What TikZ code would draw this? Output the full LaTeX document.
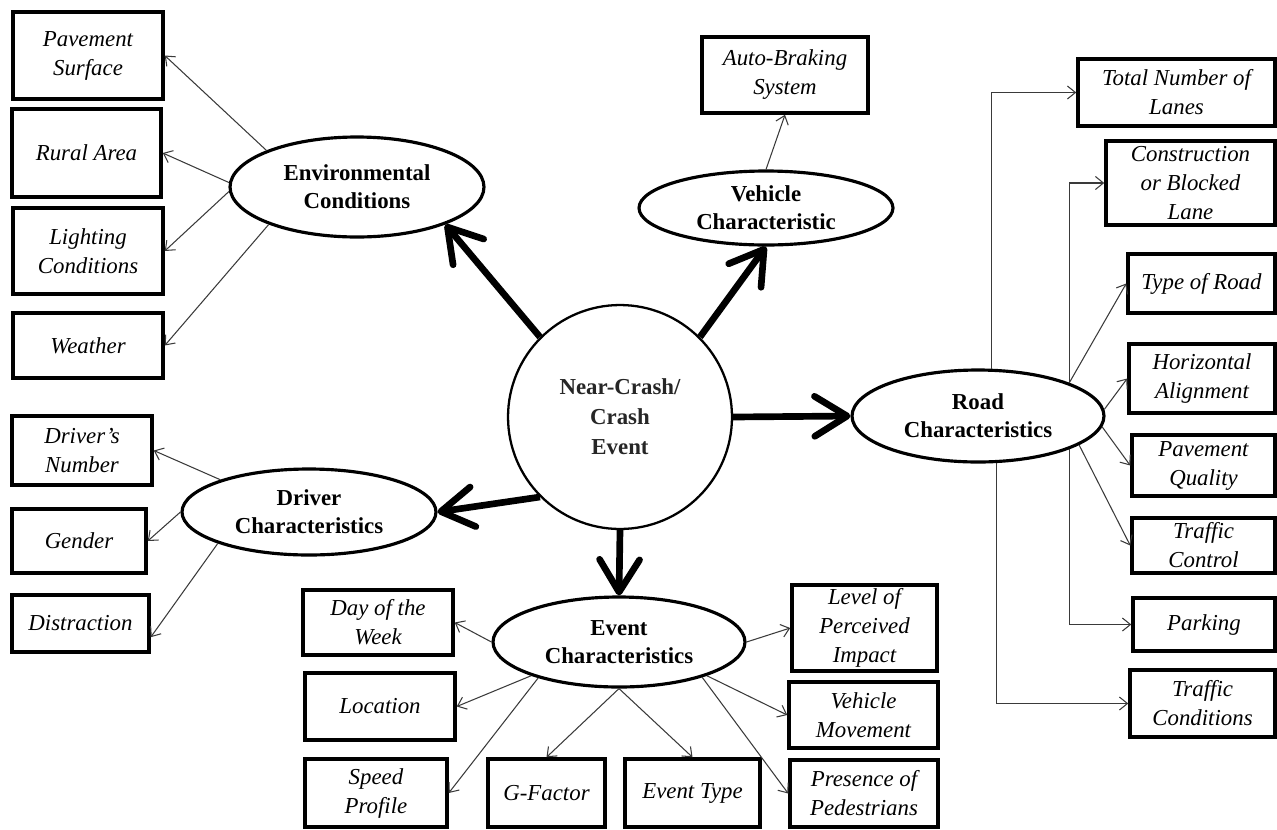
\documentclass[tikz,border=0pt]{standalone}
\usepackage{fontspec}
\setmainfont{Liberation Serif}
\usetikzlibrary{shapes.geometric,arrows.meta}
\definecolor{linegray}{HTML}{3A3A3A}
\newcommand\boxfont{\itshape\fontsize{13}{16.5}\selectfont}
\newcommand\ellfont{\bfseries\fontsize{13}{16}\selectfont}
\newcommand\bx[6]{%
  \pgfmathsetmacro\bxw{(#4-#2)*0.02}%
  \pgfmathsetmacro\bxh{(#5-#3)*0.02}%
  \node[box, minimum width=\bxw cm, minimum height=\bxh cm] (#1) at ({(#2+#4)/2},{(#3+#5)/2}) {#6};}
\begin{document}
\begin{tikzpicture}[x=0.02cm,y=-0.02cm,
  box/.style={draw, line width=2pt, inner sep=0pt, align=center, font=\boxfont},
  ell/.style={draw, ellipse, line width=1.8pt, inner sep=0pt, align=center, font=\ellfont},
  conn/.style={draw=linegray, line width=0.6pt, -{Straight Barb[length=1.6mm,width=2.6mm]}},
  bigarrow/.style={line width=3.8pt, -{Straight Barb[length=6.5mm,width=8mm,line cap=round,line join=round]}}
]
\useasboundingbox (0,0) rectangle (1277,829);

% central circle
\node[draw, circle, line width=1.3pt, minimum size=4.48cm, inner sep=0pt, align=center,
      font=\bfseries\fontsize{13}{17}\selectfont, text=black!85] (cc) at (620,417) {Near-Crash/\\Crash\\Event};

% category ellipses
\node[ell, minimum width=5.08cm, minimum height=2cm]    (env)  at (357,187) {Environmental\\Conditions};
\node[ell, minimum width=5.08cm, minimum height=1.48cm] (vc)   at (766,208) {Vehicle\\Characteristic};
\node[ell, minimum width=5.04cm, minimum height=1.84cm] (road) at (978,416) {Road\\Characteristics};
\node[ell, minimum width=5.08cm, minimum height=1.72cm] (dr)   at (309,512) {Driver\\Characteristics};
\node[ell, minimum width=5.04cm, minimum height=1.80cm] (ev)   at (619,642) {Event\\Characteristics};

% boxes
\bx{ps}{13}{12}{163}{99}{Pavement\\Surface}
\bx{ra}{12}{109}{161}{197}{Rural Area}
\bx{lc}{13}{208}{163}{294}{Lighting\\Conditions}
\bx{we}{13}{313}{163}{378}{Weather}
\bx{ab}{702}{37}{868}{113}{Auto-Braking\\System}
\bx{tnl}{1078}{59}{1275}{126}{Total Number of\\Lanes}
\bx{cbl}{1106}{141}{1275}{225}{Construction\\or Blocked\\Lane}
\bx{tor}{1128}{254}{1275}{313}{Type of Road}
\bx{ha}{1129}{344}{1275}{413}{Horizontal\\Alignment}
\bx{pq}{1132}{435}{1275}{496}{Pavement\\Quality}
\bx{tco}{1132}{518}{1275}{573}{Traffic\\Control}
\bx{pk}{1133}{598}{1275}{651}{Parking}
\bx{tcd}{1130}{670}{1275}{737}{Traffic\\Conditions}
\bx{dn}{12}{416}{152}{485}{Driver’s\\Number}
\bx{ge}{12}{509}{146}{573}{Gender}
\bx{di}{12}{595}{149}{652}{Distraction}
\bx{dw}{303}{590}{453}{655}{Day of the\\Week}
\bx{lo}{305}{673}{455}{740}{Location}
\bx{sp}{305}{759}{447}{827}{Speed\\Profile}
\bx{gf}{488}{759}{605}{827}{G-Factor}
\bx{et}{625}{759}{760}{827}{Event Type}
\bx{lp}{792}{585}{937}{671}{Level of\\Perceived\\Impact}
\bx{vm}{789}{682}{938}{748}{Vehicle\\Movement}
\bx{pp}{790}{760}{938}{827}{Presence of\\Pedestrians}

% thick arrows from the central event
\draw[bigarrow] (cc.135) -- (env.-23);
\draw[bigarrow] (cc.45) -- (vc.south);
\draw[bigarrow] (cc.east) -- (road.west);
\draw[bigarrow] (cc.225) -- (dr.east);
\draw[bigarrow] (cc.south) -- (ev.north);

% environmental
\draw[conn] (env.158) -- (ps.east);
\draw[conn] (env.178) -- (ra.east);
\draw[conn] (env.182) -- (lc.east);
\draw[conn] (env.203) -- (we.east);

% vehicle
\draw[conn] (vc.north) -- (ab.south);

% road
\draw[conn] (road.74) |- (tnl.west);
\draw[conn] (road.20.6) |- (cbl.west);
\draw[conn] (road.20.6) -- (tor.west);
\draw[conn] (road.3) -- (ha.west);
\draw[conn] (road.-5) -- (pq.west);
\draw[conn] (road.-16) -- (tco.west);
\draw[conn] (road.-20.6) |- (pk.west);
\draw[conn] (road.-69.6) |- (tcd.west);

% driver
\draw[conn] (dr.160) -- (dn.east);
\draw[conn] (dr.west) -- (ge.east);
\draw[conn] (dr.199) -- (di.-11);

% event
\draw[conn] (ev.west) -- (dw.east);
\draw[conn] (ev.201) -- (lo.east);
\draw[conn] (ev.204) -- (sp.east);
\draw[conn] (ev.south) -- (gf.north);
\draw[conn] (ev.south) -- (et.north);
\draw[conn] (ev.east) -- (lp.west);
\draw[conn] (ev.-21) -- (vm.west);
\draw[conn] (ev.-23) -- (pp.west);
\end{tikzpicture}
\end{document}
